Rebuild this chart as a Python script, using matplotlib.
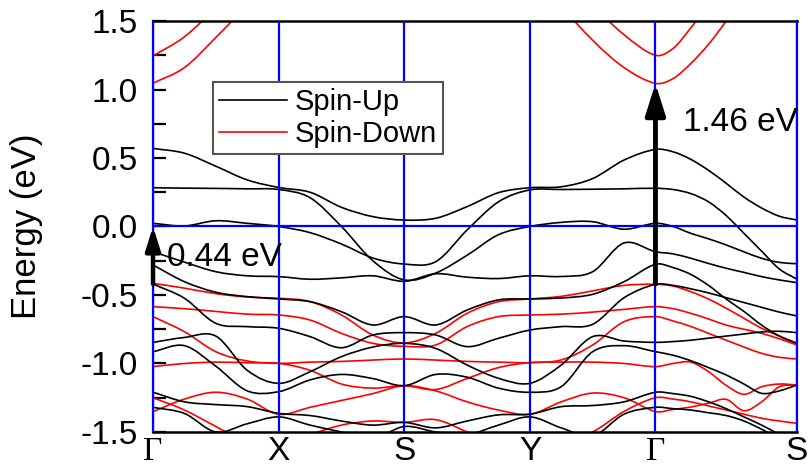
import numpy as np
import matplotlib
matplotlib.use("Agg")
import matplotlib.pyplot as plt
from matplotlib.ticker import MultipleLocator, FormatStrFormatter
from matplotlib.path import Path
from matplotlib.patches import PathPatch
from matplotlib.lines import Line2D

plt.rcParams['font.family'] = ['Liberation Sans', 'DejaVu Sans']

# High-symmetry path
hs_labels = ['Γ', 'X', 'S', 'Y', 'Γ', 'S']
hs_pos = [0.0, 1.0, 2.0, 3.0, 4.0, 5.127]

# k grid: quarters on first four segments, eighths on the last one
k = []
for i in range(4):
    for j in range(4):
        k.append(hs_pos[i] + (hs_pos[i + 1] - hs_pos[i]) * j / 4)
for j in range(9):
    k.append(hs_pos[4] + (hs_pos[5] - hs_pos[4]) * j / 8)
k = np.array(k)

# Spin-up bands (eV)
up_1 = [0.57, 0.535, 0.44, 0.34, 0.285, 0.25, 0.14, 0.072, 0.047, 0.06, 0.145, 0.247, 0.283, 0.29, 0.35, 0.485, 0.563, 0.545, 0.49, 0.41, 0.315, 0.215, 0.135, 0.075, 0.047]
up_2 = [0.283, 0.28, 0.278, 0.275, 0.27, 0.21, 0.0, -0.25, -0.39, -0.34, -0.21, -0.06, 0.0, 0.03, 0.035, -0.02, 0.023, 0.0, -0.05, -0.09, -0.135, -0.185, -0.232, -0.262, -0.272]
up_3 = [0.023, 0.004, 0.042, 0.023, 0.0, -0.045, -0.128, -0.23, -0.274, -0.257, -0.026, 0.18, 0.267, 0.27, 0.272, 0.275, 0.279, 0.27, 0.24, 0.18, 0.08, -0.05, -0.18, -0.31, -0.385]
up_4 = [-0.184, -0.26, -0.33, -0.36, -0.366, -0.385, -0.375, -0.36, -0.40, -0.345, -0.37, -0.38, -0.36, -0.365, -0.33, -0.12, -0.184, -0.2, -0.232, -0.27, -0.305, -0.335, -0.366, -0.39, -0.41]
up_5 = [-0.281, -0.403, -0.48, -0.512, -0.529, -0.549, -0.622, -0.719, -0.658, -0.719, -0.61, -0.536, -0.529, -0.522, -0.495, -0.403, -0.276, -0.30, -0.35, -0.43, -0.53, -0.62, -0.72, -0.80, -0.853]
up_6 = [-0.42, -0.524, -0.707, -0.731, -0.743, -0.804, -0.885, -0.792, -0.775, -0.792, -0.877, -0.816, -0.756, -0.731, -0.714, -0.52, -0.422, -0.43, -0.455, -0.485, -0.52, -0.555, -0.59, -0.625, -0.653]
up_7 = [-0.846, -0.81, -0.80, -1.05, -1.145, -1.06, -0.95, -0.88, -0.853, -0.89, -1.011, -1.108, -1.145, -1.011, -0.804, -0.836, -0.846, -0.84, -0.83, -0.815, -0.8, -0.785, -0.77, -0.765, -0.775]
up_8 = [-0.914, -0.87, -1.02, -1.2, -1.206, -1.12, -1.08, -1.11, -1.162, -1.08, -1.1, -1.18, -1.21, -1.169, -0.914, -0.87, -0.914, -0.94, -0.98, -1.03, -1.084, -1.15, -1.218, -1.2, -1.157]
up_9 = [-1.21, -1.28, -1.30, -1.315, -1.364, -1.38, -1.42, -1.45, -1.43, -1.47, -1.42, -1.375, -1.37, -1.315, -1.307, -1.28, -1.21, -1.22, -1.24, -1.28, -1.33, -1.39, -1.45, -1.52, -1.6]
up_10 = [-1.32, -1.365, -1.5, -1.44, -1.39, -1.45, -1.5, -1.55, -1.46, -1.5, -1.52, -1.45, -1.39, -1.47, -1.53, -1.37, -1.32, -1.33, -1.34, -1.36, -1.38, -1.42, -1.48, -1.55, -1.62]

# Spin-down bands (eV)
dn_c1 = [1.046, 1.16, 1.38, 1.62, 1.9, 2.0, 2.0, 2.0, 2.0, 2.0, 2.0, 2.0, 2.0, 1.62, 1.36, 1.16, 1.045, 1.08, 1.19, 1.33, 1.5, 1.68, 1.85, 2.0, 2.1]
dn_c2 = [1.245, 1.385, 1.6, 1.85, 2.1, 2.2, 2.2, 2.2, 2.2, 2.2, 2.2, 2.2, 2.2, 1.9, 1.62, 1.40, 1.25, 1.3, 1.45, 1.62, 1.8, 1.95, 2.1, 2.2, 2.3]
dn_1 = [-0.415, -0.45, -0.49, -0.515, -0.524, -0.548, -0.646, -0.792, -0.85, -0.78, -0.634, -0.549, -0.529, -0.51, -0.47, -0.43, -0.422, -0.435, -0.476, -0.53, -0.597, -0.67, -0.743, -0.8, -0.853]
dn_2 = [-0.585, -0.60, -0.62, -0.64, -0.646, -0.683, -0.78, -0.853, -0.875, -0.865, -0.731, -0.658, -0.646, -0.64, -0.625, -0.605, -0.585, -0.6, -0.634, -0.675, -0.72, -0.75, -0.78, -0.82, -0.865]
dn_3 = [-0.658, -0.768, -0.914, -0.982, -0.999, -0.99, -0.985, -0.975, -0.967, -0.975, -0.985, -0.99, -0.994, -0.974, -0.865, -0.695, -0.658, -0.69, -0.73, -0.78, -0.83, -0.88, -0.926, -0.955, -0.967]
dn_4 = [-1.023, -1.0, -0.99, -0.995, -0.999, -1.05, -1.15, -1.18, -1.162, -1.19, -1.11, -1.03, -0.994, -0.99, -0.99, -1.0, -1.023, -1.0, -0.99, -1.06, -1.16, -1.225, -1.17, -1.15, -1.157]
dn_5 = [-1.351, -1.26, -1.21, -1.26, -1.371, -1.32, -1.27, -1.22, -1.162, -1.2, -1.28, -1.34, -1.371, -1.28, -1.216, -1.25, -1.351, -1.335, -1.318, -1.29, -1.262, -1.345, -1.28, -1.17, -1.157]
dn_6 = [-1.25, -1.34, -1.46, -1.58, -1.6, -1.52, -1.45, -1.42, -1.43, -1.41, -1.5, -1.6, -1.62, -1.58, -1.5, -1.35, -1.25, -1.26, -1.28, -1.31, -1.34, -1.37, -1.4, -1.42, -1.437]

spin_up = [up_1, up_2, up_3, up_4, up_5, up_6, up_7, up_8, up_9, up_10]
spin_down = [dn_c1, dn_c2, dn_1, dn_2, dn_3, dn_4, dn_5, dn_6]

gap_labels = ['0.44 eV', '1.46 eV']


def smooth_path(x, y):
    """Cubic Bezier path through the data points (Catmull-Rom tangents)."""
    x = np.asarray(x, float)
    y = np.asarray(y, float)
    n = len(x)
    verts = [(x[0], y[0])]
    codes = [Path.MOVETO]
    for i in range(n - 1):
        i0 = max(i - 1, 0)
        i3 = min(i + 2, n - 1)
        h = x[i + 1] - x[i]
        m1 = (y[i + 1] - y[i0]) / (x[i + 1] - x[i0])
        m2 = (y[i3] - y[i]) / (x[i3] - x[i])
        verts += [(x[i] + h / 3, y[i] + m1 * h / 3),
                  (x[i + 1] - h / 3, y[i + 1] - m2 * h / 3),
                  (x[i + 1], y[i + 1])]
        codes += [Path.CURVE4] * 3
    return Path(verts, codes)


fig = plt.figure(figsize=(8.08, 4.67), dpi=100)
ax = fig.add_axes([0.1894, 0.075, 0.797, 0.880])

for b in spin_up:
    ax.add_patch(PathPatch(smooth_path(k, b), facecolor='none', edgecolor='black',
                           lw=1.2, zorder=3))
for b in spin_down:
    ax.add_patch(PathPatch(smooth_path(k, b), facecolor='none', edgecolor='red',
                           lw=1.2, zorder=2))

for p in hs_pos:
    ax.axvline(p, color='#0000ff', lw=1.6, zorder=4)
ax.axhline(0.0, color='#0000ff', lw=1.6, zorder=4)

ax.set_xlim(hs_pos[0], hs_pos[-1])
ax.set_ylim(-1.5, 1.5)
ax.set_xticks(hs_pos)
ax.set_xticklabels(hs_labels)
for t, lab in zip(ax.get_xticklabels(), hs_labels):
    if lab == 'Γ':
        t.set_fontfamily(['Liberation Serif', 'DejaVu Serif'])
ax.tick_params(axis='x', length=0, labelsize=24, pad=3)
ax.yaxis.set_major_locator(MultipleLocator(0.5))
ax.yaxis.set_minor_locator(MultipleLocator(0.25))
ax.yaxis.set_major_formatter(FormatStrFormatter('%.1f'))
ax.tick_params(axis='y', which='both', direction='in', length=9, width=1.6,
               labelsize=24, pad=11, right=False)
ax.set_ylabel('Energy (eV)', fontsize=25)
ax.yaxis.set_label_coords(-0.171, 0.5)

for s in ['top', 'bottom']:
    ax.spines[s].set_linewidth(1.8)
    ax.spines[s].set_color('black')
for s in ['left', 'right']:
    ax.spines[s].set_linewidth(1.6)
    ax.spines[s].set_color('#0000ff')

# Gap arrows
ax.annotate('', xy=(hs_pos[0], 0.0), xytext=(hs_pos[0], -0.42),
            arrowprops=dict(arrowstyle='-|>,head_length=0.7,head_width=0.22',
                            mutation_scale=20, lw=3.2, color='black',
                            shrinkA=0, shrinkB=0),
            annotation_clip=False, zorder=6)
ax.annotate('', xy=(hs_pos[4], 1.045), xytext=(hs_pos[4], -0.42),
            arrowprops=dict(arrowstyle='-|>,head_length=0.95,head_width=0.3',
                            mutation_scale=20, lw=3.5, color='black',
                            shrinkA=0, shrinkB=0),
            zorder=6)
ax.text(0.11, -0.223, gap_labels[0], fontsize=24, ha='left', va='center', zorder=7)
ax.text(4.223, 0.759, gap_labels[1], fontsize=24, ha='left', va='center', zorder=7)

handles = [Line2D([], [], color='black', lw=1.2), Line2D([], [], color='red', lw=1.2)]
leg = ax.legend(handles, ['Spin-Up', 'Spin-Down'], loc='upper left',
                bbox_to_anchor=(0.093, 0.8516), borderaxespad=0,
                fontsize=21, handlelength=2.33, handletextpad=0.28,
                labelspacing=0.15, borderpad=0.2, fancybox=False, framealpha=1)
leg.get_frame().set_edgecolor('#555555')
leg.get_frame().set_linewidth(1.5)
leg.set_zorder(8)

fig.savefig('out.png', dpi=100)
